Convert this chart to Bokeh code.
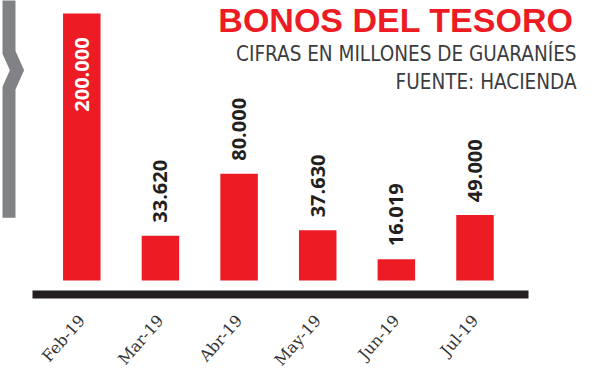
import math
from bokeh.plotting import figure
from bokeh.models import ColumnDataSource, Label, FixedTicker, Range1d
from bokeh.embed import file_html
from bokeh.resources import INLINE
from bokeh.core.properties import value

# ---------------- data ----------------
months = ["Feb-19", "Mar-19", "Abr-19", "May-19", "Jun-19", "Jul-19"]
amounts = [200000, 33620, 80000, 37630, 16019, 49000]
amount_labels = ["200.000", "33.620", "80.000", "37.630", "16.019", "49.000"]

title_text = "BONOS DEL TESORO"
subtitle_1 = "CIFRAS EN MILLONES DE GUARANÍES"
subtitle_2 = "FUENTE: HACIENDA"

# ---------------- geometry (page pixels; Bokeh page has no body margin) ----------------
W, H = 600, 378
FRAME_BOTTOM = 300
BOTTOM = H - FRAME_BOTTOM
PX_BAR0 = 81.3          # page x of first bar centre
PX_STEP = 78.64         # page px between bars
PX_ZERO = 281           # page y of value 0
PPU = 268 / 200000      # px per unit on y

x_start = -PX_BAR0 / PX_STEP
x_end = x_start + W / PX_STEP
y_end = PX_ZERO / PPU
y_start = -(FRAME_BOTTOM - PX_ZERO) / PPU


def X(px):
    return x_start + px / PX_STEP


def Y(py):
    return (PX_ZERO - py) / PPU


RED = "#ed1c24"
DARK = "#231f20"
GRAY = "#808285"
TEXT = "#3c3c40"

p = figure(width=W, height=H, output_backend="svg", toolbar_location=None,
           x_range=Range1d(x_start, x_end), y_range=Range1d(y_start, y_end),
           y_axis_location=None, min_border_left=0, min_border_right=0,
           min_border_top=0, min_border_bottom=BOTTOM)
p.outline_line_color = None
p.xgrid.visible = False
p.ygrid.visible = False
p.background_fill_color = "white"
p.border_fill_color = "white"

idx = list(range(len(months)))
vmax = max(amounts)
inside = [a > 0.5 * vmax for a in amounts]
src = ColumnDataSource(dict(
    x=idx, top=amounts, label=amount_labels,
    ly=[a - 24 / PPU if ins else a + 13 / PPU for a, ins in zip(amounts, inside)],
    align=["right" if ins else "left" for ins in inside],
    color=["white" if ins else DARK for ins in inside],
))

# decorative bracket on the left
p.line(x=[X(8.5), X(8.5), X(16.5), X(8.5), X(8.5)],
       y=[Y(-5), Y(52), Y(70), Y(88), Y(218)],
       line_width=13, line_color=GRAY, line_join="miter")

p.vbar(x="x", top="top", bottom=0, width=37.5 / PX_STEP, source=src,
       fill_color=RED, line_color=None)

# base line
p.segment(x0=[X(32)], x1=[X(528)], y0=[Y(295)], y1=[Y(295)],
          line_width=8, line_color=DARK)

p.text(x="x", y="ly", text="label", source=src, angle=math.pi / 2,
       text_align="align", text_baseline="middle", text_color="color",
       text_font=value("Open Sans"), text_font_style="bold",
       text_font_size="20px")

# titles
p.add_layout(Label(x=X(573), y=Y(19.5), text=title_text, text_align="right",
                   text_baseline="alphabetic", text_color=RED,
                   text_font="Liberation Sans", text_font_style="bold",
                   text_font_size="34px"))
p.add_layout(Label(x=X(576), y=Y(54), text=subtitle_1, text_align="right",
                   text_baseline="alphabetic", text_color=TEXT,
                   text_font="DejaVu Sans Condensed",
                   text_font_size="20.5px"))
p.add_layout(Label(x=X(576), y=Y(81.5), text=subtitle_2, text_align="right",
                   text_baseline="alphabetic", text_color=TEXT,
                   text_font="DejaVu Sans Condensed",
                   text_font_size="20.5px"))

# x axis: labels only
ax = p.xaxis[0]
ax.ticker = FixedTicker(ticks=idx)
ax.major_label_overrides = {i: m for i, m in zip(idx, months)}
ax.major_label_orientation = 0.85
ax.axis_line_color = None
ax.major_tick_line_color = None
ax.minor_tick_line_color = None
ax.major_tick_out = 0
ax.major_tick_in = 0
ax.major_label_standoff = 18
ax.major_label_text_font = "DejaVu Serif"
ax.major_label_text_font_size = "16px"
ax.major_label_text_color = "#333333"

open("out.html", "w").write(file_html(p, INLINE))
